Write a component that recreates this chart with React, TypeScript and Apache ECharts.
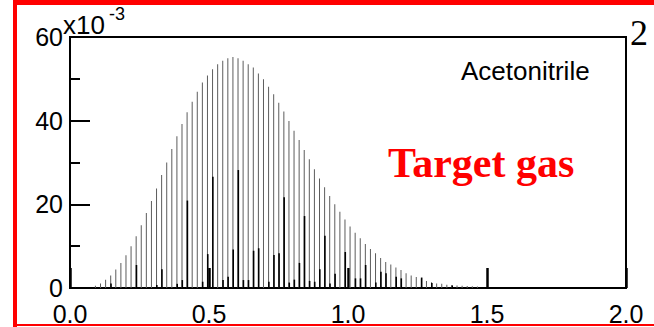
import React, { useEffect, useRef } from "react";
import * as echarts from "echarts";

// Fragment lines: first line position, spacing between lines (x axis units)
const LINE_START = 0.0925;
const LINE_STEP = 0.01832;

// Main distribution (units of 10^-3)
const mainHeights: number[] = [
  0.55, 1.1, 2.0, 3.0, 4.4, 6.0, 7.8, 10.0, 12.4, 15.0,
  17.9, 20.8, 23.8, 27.0, 30.0, 33.2, 36.3, 39.2, 42.0, 44.5,
  46.9, 49.1, 50.8, 52.3, 53.5, 54.3, 54.9, 55.2, 54.9, 54.3,
  53.5, 52.7, 51.3, 49.9, 48.1, 46.3, 44.3, 42.2, 39.9, 37.6,
  35.4, 33.0, 30.8, 28.4, 26.2, 24.1, 22.0, 20.0, 18.2, 16.4,
  14.7, 13.2, 11.9, 10.5, 9.3, 8.3, 7.2, 6.2, 5.6, 4.9,
  4.3, 3.5, 3.0, 2.6, 2.2, 1.7, 1.4, 1.1, 1.0, 0.8,
  0.7, 0.6, 0.55, 0.5, 0.4, 0.35,
];

// Darker overlay lines (same positions, units of 10^-3)
const overlayHeights: number[] = [
  0, 0, 0, 1.1, 0, 0, 0, 0, 5.5, 0,
  0, 0, 0.7, 4.5, 0, 0, 1.0, 1.9, 20.9, 0,
  0, 1.5, 8.1, 26.6, 0, 1.9, 2.7, 9.2, 28.2, 1.9,
  1.9, 8.9, 9.5, 0, 1.5, 7.9, 8.3, 21.7, 1.3, 2.0,
  6.0, 17.2, 1.7, 1.5, 4.5, 12.5, 1.1, 3.4, 0, 8.6,
  0, 2.3, 2.3, 5.5, 0, 1.3, 3.9, 3.5, 0, 2.7,
  2.3, 0, 0, 0, 2.5, 0, 1.2, 0, 0, 0,
  0.6, 0, 0, 0, 0, 0,
];

const xTicks = { min: 0, max: 2, interval: 0.5 };
const yTicks = { min: 0, max: 60, interval: 20 };

const SANS = "'Liberation Sans', Arial, sans-serif";
const SERIF = "'Liberation Serif', 'Times New Roman', serif";

export default function App() {
  const ref = useRef<HTMLDivElement>(null);

  useEffect(() => {
    if (!ref.current) return;
    const chart = echarts.init(ref.current, undefined, { renderer: "svg" });

    const mainData = mainHeights.map((h, i) => [LINE_START + i * LINE_STEP, h]);
    const overlayData = overlayHeights
      .map((h, i) => [LINE_START + i * LINE_STEP, h])
      .filter((d) => d[1] > 0);

    chart.setOption({
      animation: false,
      backgroundColor: "#fff",
      grid: {
        left: 70,
        right: 28,
        top: 37,
        bottom: 39,
        show: true,
        borderColor: "#000",
        borderWidth: 2,
        backgroundColor: "transparent",
      },
      xAxis: {
        type: "value",
        min: xTicks.min,
        max: xTicks.max,
        interval: xTicks.interval,
        axisLine: { show: true, onZero: false, lineStyle: { color: "#000", width: 2 } },
        axisTick: { show: true, inside: true, length: 20, lineStyle: { color: "#000", width: 2.5 } },
        splitLine: { show: false },
        axisLabel: {
          color: "#000",
          fontSize: 25,
          fontFamily: SANS,
          margin: 13,
          formatter: (v: number) => v.toFixed(1),
        },
      },
      yAxis: {
        type: "value",
        min: yTicks.min,
        max: yTicks.max,
        interval: yTicks.interval,
        axisLine: { show: true, onZero: false, lineStyle: { color: "#000", width: 2 } },
        axisTick: { show: true, inside: true, length: 20, lineStyle: { color: "#000", width: 2 } },
        minorTick: { show: true, splitNumber: 2, length: 10, lineStyle: { color: "#000", width: 2 } },
        splitLine: { show: false },
        minorSplitLine: { show: false },
        axisLabel: {
          color: "#000",
          fontSize: 25,
          fontFamily: SANS,
          margin: 7,
        },
      },
      series: [
        {
          type: "bar",
          data: mainData,
          barWidth: 1,
          barGap: "-100%",
          itemStyle: { color: "#5c5c5c" },
          silent: true,
        },
        {
          type: "bar",
          data: overlayData,
          barWidth: 1.6,
          barGap: "-100%",
          itemStyle: { color: "#000" },
          silent: true,
        },
      ],
      graphic: [
        // red frame
        { type: "rect", shape: { x: 13, y: 0, width: 641, height: 5 }, style: { fill: "#ff0000" }, z: 100 },
        { type: "rect", shape: { x: 13, y: 0, width: 4, height: 327 }, style: { fill: "#ff0000" }, z: 100 },
        { type: "rect", shape: { x: 13, y: 324, width: 641, height: 2 }, style: { fill: "#ff0000" }, z: 100 },
        // axis multiplier
        {
          type: "text",
          x: 63,
          y: 25,
          style: { text: "x10", font: `26px ${SANS}`, fill: "#000", verticalAlign: "middle", align: "left" },
          z: 100,
        },
        {
          type: "text",
          x: 109,
          y: 14,
          style: { text: "-3", font: `18px ${SANS}`, fill: "#000", verticalAlign: "middle", align: "left" },
          z: 100,
        },
        {
          type: "text",
          x: 461,
          y: 71,
          style: { text: "Acetonitrile", font: `26px ${SANS}`, fill: "#000", verticalAlign: "middle", align: "left" },
          z: 100,
        },
        {
          type: "text",
          x: 388,
          y: 163,
          style: { text: "Target gas", font: `bold 42px ${SERIF}`, fill: "#ff0000", verticalAlign: "middle", align: "left" },
          z: 100,
        },
        {
          type: "text",
          x: 639,
          y: 33,
          style: { text: "2", font: `36px ${SERIF}`, fill: "#000", verticalAlign: "middle", align: "center" },
          z: 100,
        },
      ],
    });

    return () => chart.dispose();
  }, []);

  return (
    <div
      ref={ref}
      style={{ position: "fixed", left: 0, top: 0, width: 654, height: 327, background: "#fff" }}
    />
  );
}
